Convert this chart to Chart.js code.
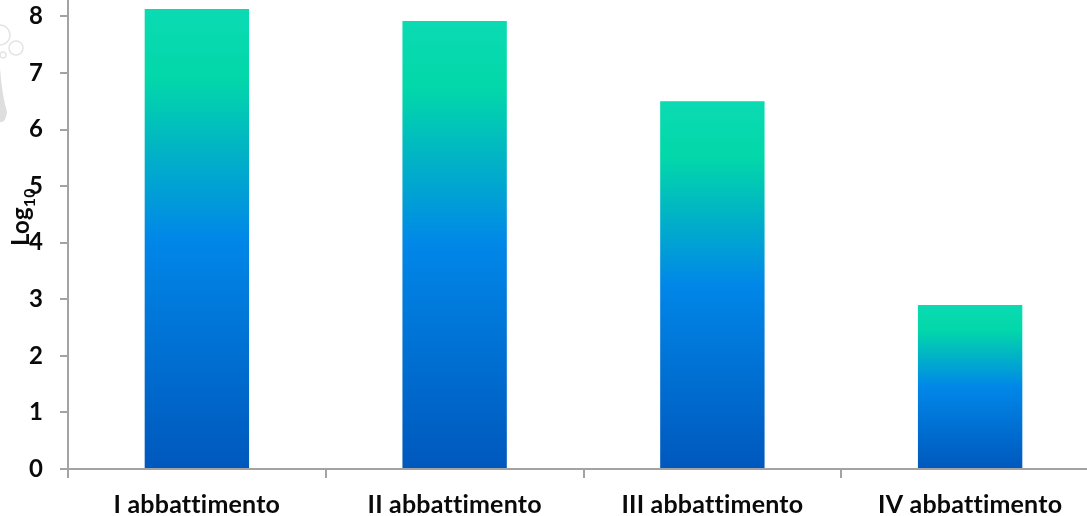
<!DOCTYPE html>
<html>
<head>
<meta charset="utf-8">
<title>Log10 per abbattimento</title>
<script src="https://cdn.jsdelivr.net/npm/chart.js@4/dist/chart.umd.min.js"></script>
<style>
  html, body { margin: 0; padding: 0; background: #fff; overflow: hidden; }
  #chart { display: block; }
</style>
</head>
<body>
<canvas id="chart" width="1099" height="516"></canvas>
<script>
const categories = ['I abbattimento', 'II abbattimento', 'III abbattimento', 'IV abbattimento'];
const logValues = [8.13, 7.92, 6.5, 2.9];
const axisColor = '#a3a3a3';
const textColor = '#0a0a0a';
const fontFamily = 'Lato, "Open Sans", sans-serif';

// Each bar has its own gradient, from its base up to its top
function barGradient(context) {
  const { chart, raw } = context;
  if (!chart.chartArea || raw === undefined) return '#0088e8';
  const yScale = chart.scales.y;
  const grad = chart.ctx.createLinearGradient(0, yScale.getPixelForValue(0), 0, yScale.getPixelForValue(raw));
  grad.addColorStop(0, '#0058bd');
  grad.addColorStop(0.5, '#0087e8');
  grad.addColorStop(0.85, '#02d8a9');
  grad.addColorStop(1, '#0bdab2');
  return grad;
}

// Faint bubbles logo behind the axis labels
const logoPlugin = {
  id: 'logo',
  beforeDraw(chart) {
    const ctx = chart.ctx;
    // A little letter spacing keeps the "tt" pair from joining into a ligature
    ctx.letterSpacing = '0.2px';
    ctx.save();
    ctx.strokeStyle = '#e4e4e4';
    ctx.lineWidth = 1.5;
    [[0, 35, 10], [16, 48, 7], [3, 55, 3]].forEach(([x, y, r]) => {
      ctx.beginPath();
      ctx.arc(x, y, r, 0, Math.PI * 2);
      ctx.stroke();
    });
    ctx.fillStyle = '#dedede';
    ctx.beginPath();
    ctx.moveTo(0, 68);
    ctx.quadraticCurveTo(2, 95, 7, 112);
    ctx.quadraticCurveTo(6, 122, 1, 122);
    ctx.lineTo(0, 122);
    ctx.closePath();
    ctx.fill();
    ctx.restore();
  },
};

// Rotated axis title with a real subscript
const axisTitlePlugin = {
  id: 'axisTitle',
  afterDraw(chart) {
    const ctx = chart.ctx;
    ctx.save();
    ctx.translate(29, 246);
    ctx.rotate(-Math.PI / 2);
    ctx.fillStyle = textColor;
    ctx.textAlign = 'left';
    ctx.textBaseline = 'alphabetic';
    ctx.font = `700 24px ${fontFamily}`;
    ctx.fillText('Log', 0, 0);
    const logWidth = ctx.measureText('Log').width;
    ctx.font = `700 16px ${fontFamily}`;
    ctx.fillText('10', logWidth, 6);
    ctx.restore();
  },
};

const chart = new Chart(document.getElementById('chart').getContext('2d'), {
  type: 'bar',
  data: {
    labels: categories,
    datasets: [{
      data: logValues,
      backgroundColor: barGradient,
      borderWidth: 0,
      barPercentage: 0.405,
      categoryPercentage: 1,
    }],
  },
  options: {
    responsive: false,
    animation: false,
    layout: { padding: 0 },
    plugins: { legend: { display: false }, tooltip: { enabled: false } },
    scales: {
      x: {
        afterFit: (scale) => { scale.height = 47; scale.paddingLeft = 0; scale.paddingRight = 0; },
        grid: { color: axisColor, lineWidth: 2, drawOnChartArea: false, tickLength: 9 },
        border: { color: axisColor, width: 2 },
        ticks: {
          color: textColor,
          font: { family: fontFamily, size: 25, weight: '700' },
          padding: 12,
          maxRotation: 0,
          autoSkip: false,
        },
      },
      y: {
        min: 0,
        max: 8.29,
        afterFit: (scale) => { scale.width = 68; scale.paddingTop = 0; scale.paddingBottom = 0; },
        grid: { color: axisColor, lineWidth: 2, drawOnChartArea: false, tickLength: 8 },
        border: { color: axisColor, width: 2 },
        ticks: {
          stepSize: 1,
          includeBounds: false,
          color: textColor,
          font: { family: fontFamily, size: 24, weight: '700' },
          padding: 17,
        },
      },
    },
  },
  plugins: [logoPlugin, axisTitlePlugin],
});
</script>
</body>
</html>
